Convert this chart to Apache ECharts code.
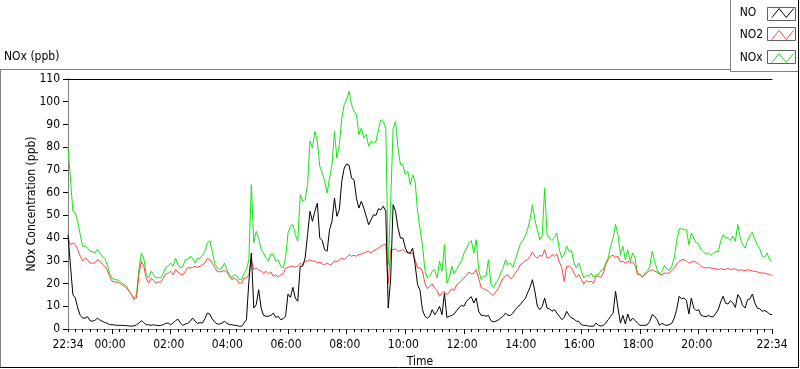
<!DOCTYPE html>
<html><head><meta charset="utf-8">
<script src="https://cdn.jsdelivr.net/npm/echarts@6/dist/echarts.min.js"></script>
<style>html,body{margin:0;padding:0;background:#fff}#c{width:800px;height:369px}</style>
</head><body><div id="c"></div>
<script>
// Time axis: minutes since start (22:34), one sample every 5 minutes
const START_CLOCK_MIN = 22 * 60 + 34;
const STEP_MIN = 5;
const tickLabelMinutes = [0, 86, 206, 326, 446, 566, 686, 806, 926, 1046, 1166, 1286, 1440];
const seriesNames = ['NO', 'NO2', 'NOx'];

const noxValues = [
 80, 66, 52, 51, 47, 41.5, 36.4, 36.4, 35.6, 34.2, 34, 33.4, 35,
 33.4, 32, 31.2, 28.3, 24.6, 22.4, 21.7, 21.7, 21, 20.2, 19.5, 18.8,
 16.6, 15.1, 13.6, 15.1, 26, 33.4, 31.2, 23.9, 22.4, 25.4, 23.9, 22.4,
 22.7, 22.4, 24.6, 27.1, 27.6, 29, 27.6, 31.2, 28.3, 26.8, 27.6, 30.5,
 30.5, 32, 31.2, 29, 31.2, 31, 32.4, 34.2, 37.8, 38.9, 34.2, 29,
 26.8, 26.1, 26.8, 29, 26.1, 23.9, 22.4, 23.9, 23.6, 21.7, 21.7, 24.6,
 26.1, 30.5, 63.5, 38, 43, 40, 34.9, 33.4, 31.2, 29.8, 33, 32.7,
 29.8, 30.5, 27.6, 26.8, 31.2, 42.2, 45.2, 45.9, 41.5, 38.6, 59.1, 56.2,
 56.9, 63.5, 82.6, 79.6, 87, 82.6, 71.6, 68.6, 65, 59.8, 66.4, 72.3,
 87, 75.2, 81.1, 92.8, 98.7, 100.9, 104.6, 98.7, 95.8, 94.3, 85.5, 88.4,
 84, 85.5, 80.4, 82.6, 81.8, 82.6, 87.7, 92.1, 91.4, 88.4, 28.3, 56,
 88, 91.4, 79.6, 72.3, 72.3, 67.9, 69.4, 63.5, 67.9, 65, 51.8, 44,
 37.1, 26.1, 22.4, 23.2, 25.4, 26.1, 22.4, 29.8, 25.4, 37.1, 20.2, 22.4,
 27.6, 24.2, 26.1, 28.3, 30, 33.4, 35.3, 37.8, 38.9, 33.4, 39.3, 26.1,
 21.7, 23.2, 23.2, 30.5, 19.8, 18.3, 20.2, 21.7, 24.6, 26.8, 30.5, 28.3,
 29, 27.1, 30.5, 33.9, 37.4, 38.9, 40.8, 43.7, 48.1, 54.7, 48.1, 43.7,
 39.3, 41.2, 62, 41.5, 40, 38.9, 40.3, 42.2, 34.9, 31.2, 32.7, 36.4,
 34.2, 34.5, 29, 26.8, 29, 25.4, 22.4, 23.6, 23.2, 24.6, 22.7, 23.9,
 23.9, 25.7, 26.1, 29, 31.2, 36.4, 40, 46, 41.5, 32.7, 36.4, 30.5,
 34.9, 29.5, 33.4, 31.2, 23.9, 24.2, 22.7, 24.6, 25.4, 27.6, 34.2, 29.8,
 26.1, 24.2, 25.4, 28, 26.5, 25.7, 27.6, 31.2, 38.6, 44.1, 44.1, 43.7,
 43.6, 37.1, 42.2, 40, 37.8, 37.4, 34.9, 33.9, 33, 33.4, 32.4, 33.4,
 34.2, 33.9, 38.6, 41.5, 40, 40.3, 38.9, 40.8, 38.6, 46, 40, 37.1,
 35.6, 38.9, 41.2, 42.7, 39.3, 37.1, 35.3, 32, 31.5, 33.4, 30.5, 29.8
];

const no2Values = [
 40, 37.1, 37.8, 37.1, 34.9, 32, 30, 31.2, 30.5, 29, 29, 29, 30.5,
 30, 28.6, 27.6, 26.1, 23.2, 21, 20.7, 20.7, 20.2, 19.5, 18.8, 18,
 16.6, 15.1, 12.9, 13.6, 23.9, 29.8, 27.6, 22.4, 20.2, 22.4, 21.3, 20.2,
 20.7, 20.7, 22.4, 24.2, 24.6, 25.4, 23.9, 26.1, 25.1, 23.9, 23.9, 25.4,
 27.1, 26.8, 27.1, 27.6, 27.1, 27.6, 28.3, 29, 31, 30.5, 29, 27.1,
 25.4, 25.1, 25.4, 25.7, 25.1, 23.2, 21.7, 22.4, 21.7, 20.2, 20.2, 22.4,
 22.4, 23.9, 30.5, 26.1, 26.8, 26.1, 25.4, 24.6, 25.4, 24.2, 25.1, 23.2,
 23.9, 22.7, 23.9, 24.2, 26.8, 27.1, 27.6, 27.6, 27.1, 27.6, 29, 28.3,
 29.8, 30, 30.5, 29.8, 30, 29, 29.5, 28.6, 28.3, 29, 28.3, 28.6,
 30, 29.5, 30.5, 31.2, 30.5, 31.5, 32.7, 32, 32.4, 32, 32.7, 33,
 33.4, 33.9, 34.2, 33.4, 34.5, 34.9, 35.6, 36.4, 37.1, 37.4, 20, 34.9,
 34.9, 35.3, 34.2, 34.5, 34.9, 33.9, 34.2, 33, 33.4, 30.5, 26.8, 27,
 25.4, 20.2, 17.7, 18.8, 19.8, 18, 16.9, 14.4, 15.8, 16.6, 15.1, 16.3,
 17.7, 16.9, 19.5, 20.2, 21.3, 22.4, 23.6, 25.1, 24.2, 24.6, 26.1, 22.4,
 18.3, 17.7, 17.2, 16.6, 15.4, 14.8, 16.3, 17.7, 20.2, 22.4, 23.2, 23.9,
 22.1, 22.7, 24.6, 26.1, 28.3, 29, 30, 30.5, 32, 33.9, 32, 31.2,
 32.4, 32, 34.9, 31.2, 31.5, 32.7, 32, 33, 29.5, 27.1, 21, 27.6,
 27.6, 26.8, 24.6, 22.7, 23.9, 21.7, 19.8, 21.3, 20.7, 21, 20.2, 23.2,
 23.2, 22.7, 24.6, 28.3, 30.5, 32, 32.4, 31.5, 32, 29.5, 29.8, 29,
 29.8, 28.9, 29.5, 28, 24.2, 23.9, 23, 23.9, 24.8, 25.7, 26.1, 25.4,
 25.1, 23.9, 23.9, 24.6, 24.5, 24.6, 25.7, 26.8, 28.6, 29.8, 30.4, 30.5,
 30, 28.9, 29.5, 29.8, 29.3, 28.6, 27.6, 27.1, 26.8, 27.1, 26.8, 26.7,
 26.5, 26.1, 26.5, 26.3, 26.1, 26.8, 26.1, 26.4, 26.5, 25.7, 26.1, 25.8,
 25.7, 26.1, 25.8, 25.5, 25.4, 25.1, 24.8, 24.6, 24.6, 24.2, 23.9, 23.6
];

const noValues = [
 41.5, 28, 15.1, 13.6, 9.2, 6, 4.8, 4.8, 5.4, 3.7, 3.4, 3.8, 4.8,
 4, 3.4, 2.9, 2.5, 1.9, 1.9, 1.8, 1.6, 1.6, 1.6, 1.5, 1.5,
 1.3, 1.3, 1.3, 1.9, 2.6, 3.7, 2.8, 1.9, 1.9, 1.6, 1.9, 1.6,
 1.5, 1.6, 1.9, 2.5, 2.6, 1.9, 2.6, 3.7, 4.3, 2.6, 1.6, 2.2,
 2.5, 3.4, 4.8, 3.4, 2.5, 2.8, 2.6, 4.5, 7, 6.6, 4.5, 3.1,
 2.2, 2.2, 2.6, 3.4, 2.5, 1.9, 1.9, 1.6, 1.6, 1.2, 1.2, 2.6,
 4.1, 21, 33.4, 9.2, 10.7, 17.3, 9.2, 6, 5.6, 5.6, 6, 7,
 5.1, 5.6, 4.1, 4.5, 5.6, 15.4, 13.9, 18.3, 13.6, 12.2, 27.6, 27.6,
 31.2, 41.5, 51.8, 47.4, 51.8, 55.4, 40, 38.9, 34.9, 34.2, 43.7, 47.4,
 57.6, 49.6, 52.5, 65, 70.8, 72.6, 72, 66.4, 65.7, 57.6, 53.2, 56.2,
 53.2, 49.6, 45.9, 48.1, 50.3, 50, 52.9, 52.5, 54, 51.8, 9.2, 22,
 54.7, 51.8, 44.4, 40, 40, 35.6, 33.4, 33.4, 35.6, 28.3, 19.5, 17,
 8.5, 5.6, 4.8, 5.6, 8.5, 6.3, 7.8, 10, 6.3, 15.8, 5.1, 5.6,
 6, 6.6, 8.1, 9.5, 10.4, 10, 12.2, 13.3, 14.2, 11.4, 13.6, 7.8,
 6, 6, 5.6, 6, 3.7, 3.1, 3.4, 4, 4.8, 5.6, 7, 6,
 6, 7, 8.5, 9.8, 10.7, 12.2, 13.3, 15.8, 18.3, 21.7, 16.6, 10,
 8.5, 10, 13.6, 9.2, 8.9, 7.8, 8.5, 7, 5.6, 4.1, 5.1, 7.8,
 6, 4.8, 4.5, 3.4, 3.4, 1.9, 1.6, 1.6, 1.2, 1.3, 1.2, 2.6,
 1.6, 1.3, 1.6, 2.6, 4.1, 5.6, 7, 16.6, 9.2, 2.6, 6, 2.2,
 6.6, 3.4, 4.8, 3.7, 2.6, 1.6, 1.6, 1.6, 1.9, 3.4, 6.3, 5.6,
 4.1, 1.6, 2.5, 1.9, 1.6, 1.9, 2.5, 4.8, 8.5, 14.4, 13.3, 13.6,
 12.5, 6.6, 13.6, 9.2, 8.1, 8.5, 6, 5.6, 5.4, 6, 5.4, 5.4,
 6.9, 8.5, 11.9, 14.4, 11.4, 11, 12.5, 11.4, 9.5, 15.1, 13.6, 10.4,
 9.2, 12.9, 13.3, 15.4, 11.4, 9.2, 8.9, 7.8, 8.1, 7.5, 6.6, 6.3
];

const COLORS = { NO: '#000000', NO2: '#ff4646', NOx: '#14e614' };
const FONT = "'DejaVu Sans Condensed', 'Liberation Sans', sans-serif";

function clock(v) {
  const m = Math.round(START_CLOCK_MIN + v) % 1440;
  const h = Math.floor(m / 60), mm = m % 60;
  return (h < 10 ? '0' : '') + h + ':' + (mm < 10 ? '0' : '') + mm;
}
const minorTicks = [];
for (let t = 0; t <= 1440; t += 15) minorTicks.push(t);
const majorTicks = [];
for (let t = 90; t <= 1440; t += 120) majorTicks.push(t);
majorTicks.push(1440);

const toPairs = arr => arr.map((v, i) => [i * STEP_MIN, v]);
const ZIG = 'path://M0,10L8,0L16,10L24,0';

function legendFor(name, top) {
  return {
    data: [{ name: name, icon: ZIG, itemStyle: { color: 'transparent', borderColor: COLORS[name], borderWidth: 1 } }],
    orient: 'vertical', align: 'right', right: 6, top: top, padding: 0,
    itemWidth: 22, itemHeight: 9, selectedMode: false,
    formatter: '{a|{name}}',
    textStyle: { fontSize: 12, color: '#000', fontFamily: FONT, rich: { a: { width: 27, align: 'left', fontSize: 12, fontFamily: FONT, color: '#000' } } }
  };
}

const chart = echarts.init(document.getElementById('c'), null, { renderer: 'canvas' });
chart.setOption({
  animation: false,
  backgroundColor: '#ffffff',
  textStyle: { fontFamily: FONT },
  title: { text: 'NOx (ppb)', left: 4, top: 51, padding: 0,
    textStyle: { fontSize: 12, fontWeight: 'normal', color: '#000', fontFamily: FONT } },
  legend: [legendFor('NO', 7), legendFor('NO2', 29), legendFor('NOx', 52)],
  grid: { left: 68, right: 28, top: 79, height: 250, containLabel: false, outerBoundsMode: 'none' },
  xAxis: [
    { type: 'value', min: 0, max: 1440, position: 'bottom',
      axisLine: { show: true, lineStyle: { color: '#808080', width: 1 } },
      axisTick: { show: true, customValues: minorTicks, length: 3, lineStyle: { color: '#000' } },
      axisLabel: { customValues: tickLabelMinutes, formatter: clock, margin: 10, fontSize: 12, color: '#000', fontFamily: FONT, showMinLabel: true, showMaxLabel: true },
      splitLine: { show: false },
      name: 'Time', nameLocation: 'middle', nameGap: 27, nameMoveOverlap: false,
      nameTextStyle: { fontSize: 12, color: '#000', fontFamily: FONT } },
    { type: 'value', min: 0, max: 1440, position: 'bottom',
      axisLine: { show: false },
      axisTick: { show: true, customValues: majorTicks, length: 5, lineStyle: { color: '#000' } },
      axisLabel: { show: false }, splitLine: { show: false } },
    { type: 'value', min: 0, max: 1440, position: 'top',
      axisLine: { show: true, lineStyle: { color: '#000' } },
      axisTick: { show: false }, axisLabel: { show: false }, splitLine: { show: false } }
  ],
  yAxis: [
    { type: 'value', min: 0, max: 110, interval: 10, position: 'left',
      axisLine: { show: true, lineStyle: { color: '#000' } },
      axisTick: { show: true, length: 5, lineStyle: { color: '#000' } },
      axisLabel: { margin: 8, fontSize: 12, color: '#000', fontFamily: FONT },
      splitLine: { show: false },
      name: 'NOx Concentration (ppb)', nameLocation: 'middle', nameGap: 30, nameMoveOverlap: false,
      nameTextStyle: { fontSize: 12, color: '#000', fontFamily: FONT } },
    { type: 'value', min: 0, max: 110, position: 'right',
      axisLine: { show: true, lineStyle: { color: '#808080' } },
      axisTick: { show: false }, axisLabel: { show: false }, splitLine: { show: false } }
  ],
  series: [
    { name: 'NOx', type: 'line', xAxisIndex: 0, yAxisIndex: 0, data: toPairs(noxValues),
      showSymbol: false, symbol: 'none', lineStyle: { color: COLORS.NOx, width: 1 }, itemStyle: { color: COLORS.NOx }, z: 2 },
    { name: 'NO2', type: 'line', xAxisIndex: 0, yAxisIndex: 0, data: toPairs(no2Values),
      showSymbol: false, symbol: 'none', lineStyle: { color: COLORS.NO2, width: 1 }, itemStyle: { color: COLORS.NO2 }, z: 3 },
    { name: 'NO', type: 'line', xAxisIndex: 0, yAxisIndex: 0, data: toPairs(noValues),
      showSymbol: false, symbol: 'none', lineStyle: { color: COLORS.NO, width: 1 }, itemStyle: { color: COLORS.NO }, z: 4 }
  ],
  graphic: [
    { type: 'line', silent: true, z: 1, shape: { x1: 0, y1: 69.5, x2: 731, y2: 69.5 }, style: { stroke: '#808080', lineWidth: 1 } },
    { type: 'line', silent: true, z: 1, shape: { x1: 0.5, y1: 69, x2: 0.5, y2: 368 }, style: { stroke: '#808080', lineWidth: 1 } },
    { type: 'line', silent: true, z: 1, shape: { x1: 0, y1: 367.5, x2: 799, y2: 367.5 }, style: { stroke: '#000', lineWidth: 1 } },
    { type: 'line', silent: true, z: 1, shape: { x1: 798.5, y1: 0, x2: 798.5, y2: 368 }, style: { stroke: '#000', lineWidth: 1 } },
    { type: 'line', silent: true, z: 1, shape: { x1: 730.5, y1: 0, x2: 730.5, y2: 72 }, style: { stroke: '#808080', lineWidth: 1 } },
    { type: 'line', silent: true, z: 1, shape: { x1: 730, y1: 71.5, x2: 798, y2: 71.5 }, style: { stroke: '#808080', lineWidth: 1 } },
    { type: 'rect', silent: true, z: 1, shape: { x: 767.5, y: 7.5, width: 28, height: 13 }, style: { fill: '#fff', stroke: '#606060', lineWidth: 1 } },
    { type: 'rect', silent: true, z: 1, shape: { x: 767.5, y: 27.5, width: 28, height: 13 }, style: { fill: '#fff', stroke: '#606060', lineWidth: 1 } },
    { type: 'rect', silent: true, z: 1, shape: { x: 767.5, y: 50.5, width: 28, height: 13 }, style: { fill: '#fff', stroke: '#606060', lineWidth: 1 } }
  ]
});
</script>
</body></html>
